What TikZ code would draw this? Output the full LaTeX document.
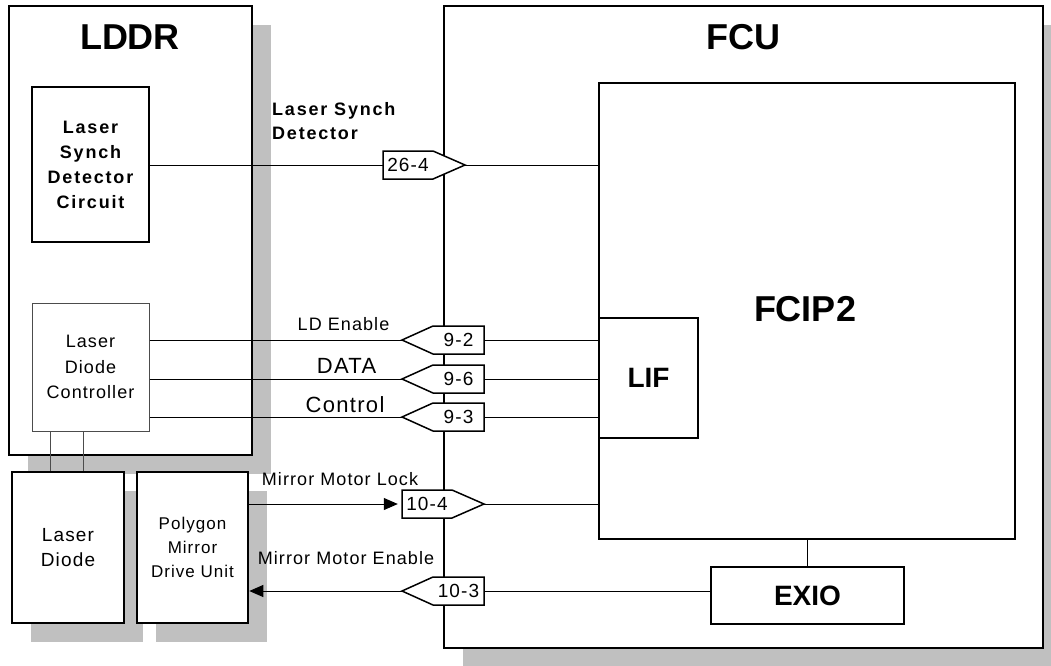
\documentclass[tikz,border=0pt]{standalone}
\usepackage{fontspec}
\setmainfont{Liberation Sans}
\newfontfamily\lbl[LetterSpace=6]{Liberation Sans}
\newfontfamily\lblb[LetterSpace=10]{Liberation Sans}
\usetikzlibrary{arrows.meta,shadows}
\definecolor{shadowgray}{HTML}{C0C0C0}
\begin{document}
\begin{tikzpicture}[x=1pt,y=-1pt,
  shadowed/.style={general shadow={fill=shadowgray, shadow xshift=19pt, shadow yshift=-19pt}},
  bigbox/.style={draw, line width=2.6pt, fill=white, inner sep=0pt, shadowed},
  midbox/.style={draw, line width=2.3pt, fill=white, inner sep=0pt},
  smallbox/.style={draw, line width=1.6pt, fill=white, inner sep=0pt},
  thinbox/.style={draw=black!70, line width=1pt, fill=white, inner sep=0pt},
  title/.style={inner sep=0pt, font=\bfseries\fontsize{36}{40}\selectfont},
  conn/.style={inner sep=0pt, minimum width=50pt, minimum height=28pt, font=\lbl\fontsize{19}{22}\selectfont},
  connshape/.style={draw, line width=1.5pt, fill=white, line join=miter},
  wire/.style={draw, line width=1pt},
  lab/.style={inner sep=0pt, font=\lbl\fontsize{18}{22}\selectfont},
  tip/.style={-{Triangle[length=14pt,width=12pt]}}
]
\clip (0,0) rectangle (1051,665);

% LDDR and peripheral boxes
\node[bigbox, minimum width=243pt, minimum height=449pt] (lddr) at (130.5,230.5) {};
\node[title] (lddrt) at (130,37.5) {LDDR};
\node[bigbox, minimum width=112pt, minimum height=151pt, align=center,
      font=\lbl\fontsize{19}{25}\selectfont] (ld) at (68,547.5) {Laser\\Diode};
\node[bigbox, minimum width=111pt, minimum height=151pt, align=center,
      font=\lbl\fontsize{17}{24}\selectfont] (pmdu) at (192.5,547.5) {Polygon\\Mirror\\Drive Unit};

% FCU
\node[bigbox, minimum width=599pt, minimum height=642pt] (fcu) at (743.5,327) {};
\node[title] (fcut) at (743.5,37.5) {FCU};
\node[midbox, minimum width=416pt, minimum height=456pt] (fcip2) at (807,311) {};
\node[title] (fcip2t) at (805,309) {FCIP2};
\node[smallbox, minimum width=99pt, minimum height=120pt,
      font=\bfseries\fontsize{28}{32}\selectfont] (lif) at (648.5,378) {LIF};
\node[smallbox, minimum width=193pt, minimum height=57pt,
      font=\bfseries\fontsize{28}{32}\selectfont] (exio) at (807.5,595.5) {EXIO};

% LDDR inner boxes
\node[smallbox, minimum width=117pt, minimum height=155pt, align=center,
      font=\lblb\bfseries\fontsize{18}{25}\selectfont] (lsdc) at (90.5,164.5) {Laser\\Synch\\Detector\\Circuit};
\node[thinbox, minimum width=117pt, minimum height=128pt, align=center,
      font=\lbl\fontsize{18}{25.5}\selectfont] (ldc) at (90.5,367) {Laser\\Diode\\Controller};

% connectors (pentagons)
\draw[connshape] (408,165) ++(-25,-14) -- ++(50,0) -- ++(32,14) -- ++(-32,14) -- ++(-50,0) -- cycle;
\node[conn] (c264) at (408,165) {26-4};
\coordinate (c264t) at ([xshift=32pt]c264.east);

\draw[connshape] (458.5,340) ++(25.5,-14) -- ++(-51,0) -- ++(-31,14) -- ++(31,14) -- ++(51,0) -- cycle;
\node[conn, minimum width=51pt] (c92) at (458.5,340) {9-2};
\coordinate (c92t) at ([xshift=-31pt]c92.west);

\draw[connshape] (458.5,379) ++(25.5,-14) -- ++(-51,0) -- ++(-31,14) -- ++(31,14) -- ++(51,0) -- cycle;
\node[conn, minimum width=51pt] (c96) at (458.5,379) {9-6};
\coordinate (c96t) at ([xshift=-31pt]c96.west);

\draw[connshape] (458.5,417) ++(25.5,-14) -- ++(-51,0) -- ++(-31,14) -- ++(31,14) -- ++(51,0) -- cycle;
\node[conn, minimum width=51pt] (c93) at (458.5,417) {9-3};
\coordinate (c93t) at ([xshift=-31pt]c93.west);

\draw[connshape] (427,504) ++(-25,-14) -- ++(50,0) -- ++(32,14) -- ++(-32,14) -- ++(-50,0) -- cycle;
\node[conn] (c104) at (427,504) {10-4};
\coordinate (c104t) at ([xshift=32pt]c104.east);

\draw[connshape] (458.5,591) ++(25.5,-14) -- ++(-51,0) -- ++(-31,14) -- ++(31,14) -- ++(51,0) -- cycle;
\node[conn, minimum width=51pt] (c103) at (458.5,591) {10-3};
\coordinate (c103t) at ([xshift=-31pt]c103.west);

% wires
\draw[wire] (c264.west -| lsdc.east) -- (c264.west);
\draw[wire] (c264t) -- (c264t -| fcip2.west);
\draw[wire] (c92t -| ldc.east) -- (c92t);
\draw[wire] (c92.east) -- (c92.east -| lif.west);
\draw[wire] (c96t -| ldc.east) -- (c96t);
\draw[wire] (c96.east) -- (c96.east -| lif.west);
\draw[wire] (c93t -| ldc.east) -- (c93t);
\draw[wire] (c93.east) -- (c93.east -| lif.west);
\draw[wire, tip, shorten >=4pt] (c104.west -| pmdu.east) -- (c104.west);
\draw[wire] (c104t) -- (c104t -| fcip2.west);
\draw[wire, tip] (c103t) -- (c103t -| pmdu.east);
\draw[wire] (c103.east) -- (c103.east -| exio.west);
\draw[wire] (exio.north |- fcip2.south) -- (exio.north);
\draw[wire, draw=black!70] ([xshift=-40.5pt]ldc.south) -- ([xshift=-40.5pt]ldc.south |- ld.north);
\draw[wire, draw=black!70] ([xshift=-7.5pt]ldc.south) -- ([xshift=-7.5pt]ldc.south |- ld.north);

% labels
\node[inner sep=0pt, anchor=north west, align=left, font=\lblb\bfseries\fontsize{18}{24}\selectfont] (lsdl) at (272,102) {Laser Synch\\Detector};
\node[lab] (lde) at (343.5,324) {LD Enable};
\node[lab, font=\lbl\fontsize{22}{26}\selectfont] (datal) at (346.5,365.5) {DATA};
\node[lab, font=\lbl\fontsize{22}{26}\selectfont] (ctrl) at (345,404.5) {Control};
\node[lab] (mml) at (340,479.5) {Mirror Motor Lock};
\node[lab] (mme) at (346,558.5) {Mirror Motor Enable};
\end{tikzpicture}
\end{document}
